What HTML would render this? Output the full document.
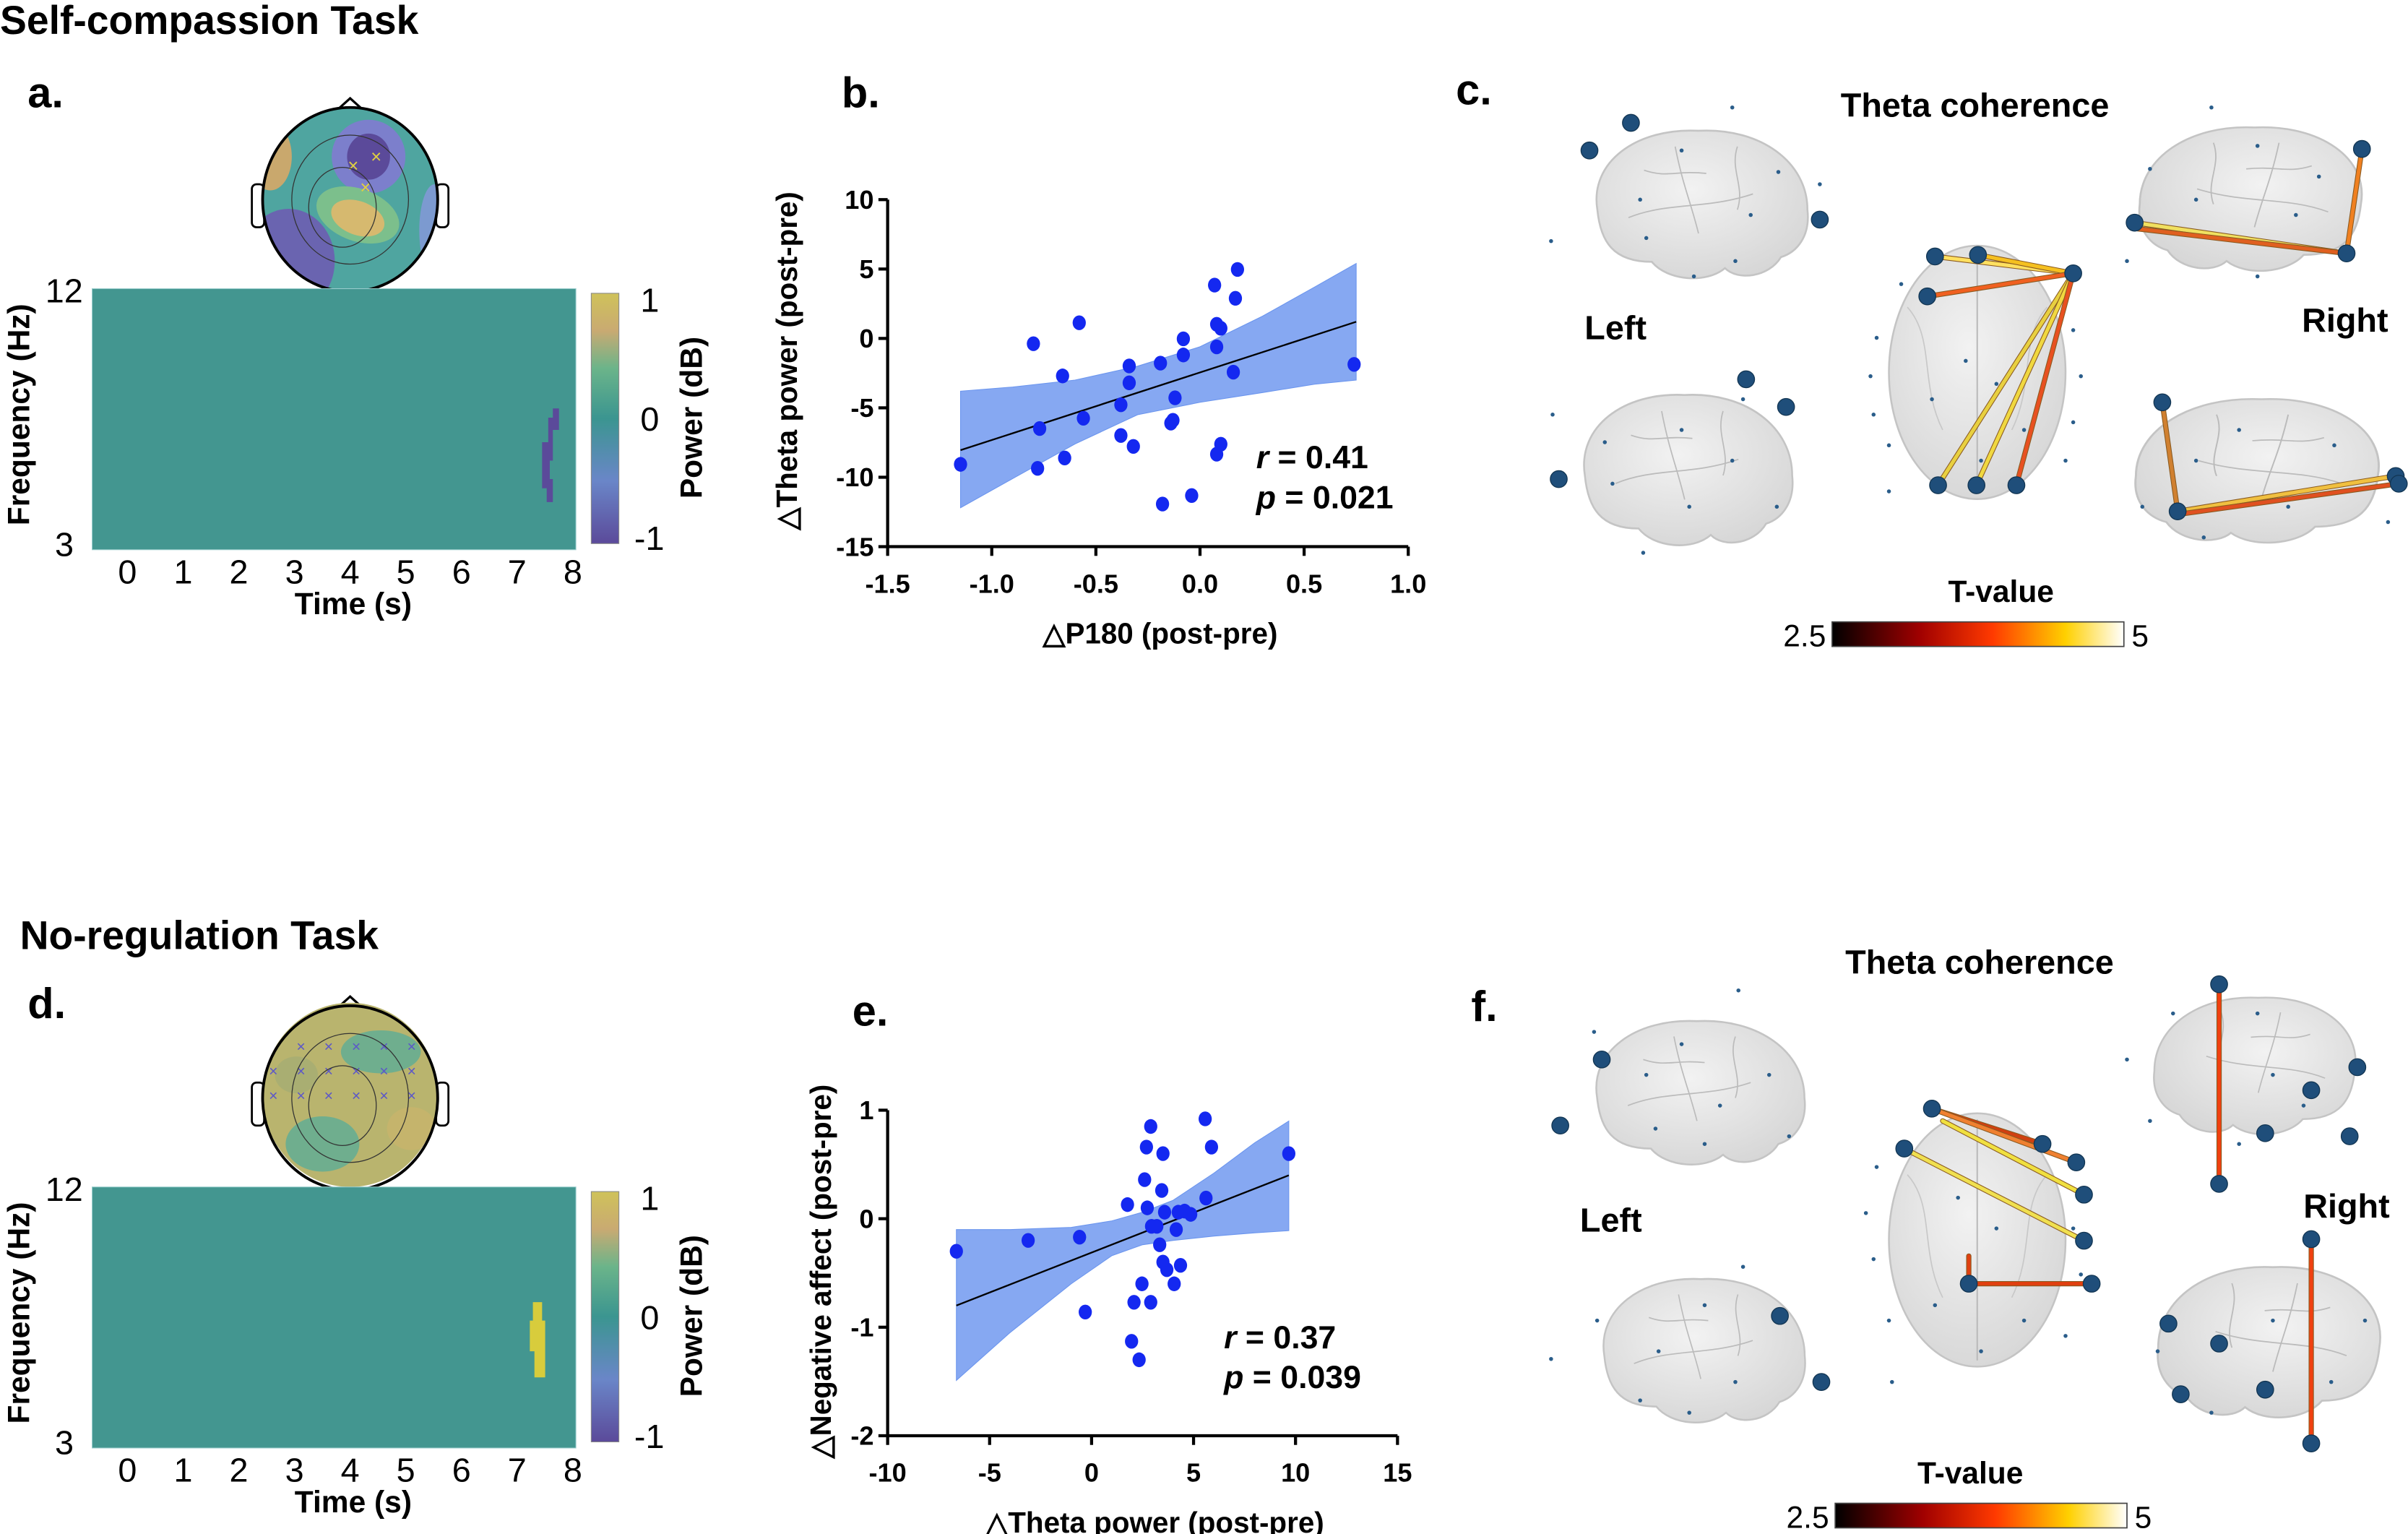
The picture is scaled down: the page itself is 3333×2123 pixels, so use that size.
<!DOCTYPE html>
<html><head><meta charset="utf-8">
<style>
html,body{margin:0;padding:0;background:#fff;}
svg{display:block;}
text{font-family:"Liberation Sans",sans-serif;}
.b{font-weight:bold;}
</style></head>
<body>
<svg id="fig" xmlns="http://www.w3.org/2000/svg" width="3333" height="2123" viewBox="0 0 1568 999" preserveAspectRatio="none">
<defs>
<linearGradient id="cbarP" x1="0" y1="1" x2="0" y2="0">
<stop offset="0" stop-color="#5b4a9a"/><stop offset="0.25" stop-color="#6a86c8"/><stop offset="0.5" stop-color="#3b9590"/><stop offset="0.7" stop-color="#6bb48a"/><stop offset="0.85" stop-color="#c9aa72"/><stop offset="1" stop-color="#cfc25a"/>
</linearGradient>
<linearGradient id="cbarT" x1="0" y1="0" x2="1" y2="0">
<stop offset="0" stop-color="#000"/><stop offset="0.3" stop-color="#a00000"/><stop offset="0.55" stop-color="#ff3a00"/><stop offset="0.8" stop-color="#ffd000"/><stop offset="1" stop-color="#ffffff"/>
</linearGradient>
<radialGradient id="brainG" cx="0.45" cy="0.4" r="0.7">
<stop offset="0" stop-color="#f2f2f2"/><stop offset="1" stop-color="#d4d4d4"/>
</radialGradient>
<clipPath id="headA"><ellipse cx="228" cy="130" rx="57" ry="60"/></clipPath>
<clipPath id="headD"><ellipse cx="228" cy="713" rx="57" ry="60"/></clipPath>
</defs>

<text x="0" y="22" font-size="26" class="b">Self-compassion Task</text>
<text x="13" y="618" font-size="26" class="b">No-regulation Task</text>
<text x="18" y="70" font-size="28" class="b">a.</text>
<text x="548" y="70" font-size="28" class="b">b.</text>
<text x="948" y="68" font-size="28" class="b">c.</text>
<text x="18" y="663" font-size="28" class="b">d.</text>
<text x="555" y="668" font-size="28" class="b">e.</text>
<text x="958" y="665" font-size="28" class="b">f.</text>

<g id="panelA"></g>
<g id="panelD"></g>
<g id="chartB"></g>
<g id="chartE"></g>
<g id="panelC"></g>
<g id="panelF"></g>
</svg>
<script>
// ---- Scatter b data ----
const bX = [-1.15,-0.80,-0.58,-0.66,-0.77,-0.78,-0.65,-0.56,-0.34,-0.34,-0.38,-0.38,-0.32,-0.19,-0.08,-0.08,-0.12,-0.13,-0.14,-0.18,-0.04,0.07,0.18,0.17,0.08,0.10,0.08,0.16,0.10,0.08,0.74];
const bY = [-9.07,-0.38,1.13,-2.70,-6.49,-9.36,-8.61,-5.75,-1.98,-3.20,-4.78,-6.99,-7.78,-1.78,-0.03,-1.19,-4.28,-5.9,-6.1,-11.93,-11.32,3.84,4.97,2.89,1.02,0.73,-0.61,-2.43,-7.62,-8.34,-1.87];
const bFitX = [-1.15, 0.75];
const bFitY = [-8.05, 1.2];
const bCiX = [-1.15,-0.9,-0.6,-0.3,0.0,0.3,0.55,0.75];
const bCiUp = [-3.8,-3.5,-3.0,-2.0,-0.6,1.6,3.7,5.4];
const bCiLo = [-12.2,-10.1,-7.6,-5.5,-4.6,-3.9,-3.3,-3.0];
const bXTicks = [-1.5,-1.0,-0.5,0.0,0.5,1.0];
const bXTickLabels = ["-1.5","-1.0","-0.5","0.0","0.5","1.0"];
const bYTicks = [10,5,0,-5,-10,-15];
const bYTickLabels = ["10","5","0","-5","-10","-15"];

// ---- Scatter e data ----
const eX = [-6.63,-3.11,-0.59,-0.31,1.76,2.90,2.69,3.50,2.60,3.44,2.73,3.58,4.25,4.56,4.86,2.94,3.20,4.15,3.34,3.50,3.69,4.36,2.47,4.05,2.08,2.90,1.96,2.33,5.57,5.88,5.61,9.67];
const eY = [-0.30,-0.20,-0.17,-0.86,0.13,0.85,0.66,0.60,0.36,0.26,0.10,0.06,0.06,0.07,0.04,-0.07,-0.07,-0.10,-0.24,-0.40,-0.47,-0.43,-0.60,-0.60,-0.77,-0.77,-1.13,-1.30,0.92,0.66,0.19,0.60];
const eFitX = [-6.63, 9.67];
const eFitY = [-0.80, 0.40];
const eCiX = [-6.63,-4,-1,1,2.5,4,6,8,9.67];
const eCiUp = [-0.10,-0.10,-0.08,-0.02,0.06,0.17,0.42,0.70,0.90];
const eCiLo = [-1.49,-1.05,-0.60,-0.34,-0.24,-0.20,-0.16,-0.13,-0.11];
const eXTicks = [-10,-5,0,5,10,15];
const eXTickLabels = ["-10","-5","0","5","10","15"];
const eYTicks = [1,0,-1,-2];
const eYTickLabels = ["1","0","-1","-2"];

// ---- heatmap / colorbar ticks ----
const timeTicks = [0,1,2,3,4,5,6,7,8];
const powerTicks = [1,0,-1];

const NS = "http://www.w3.org/2000/svg";
function mk(parent, tag, attrs, txt){
  const e = document.createElementNS(NS, tag);
  for (const k in attrs) e.setAttribute(k, attrs[k]);
  if (txt !== undefined) e.textContent = txt;
  parent.appendChild(e);
  return e;
}

function scatter(g, o){
  const sx = v => o.x0 + (v - o.xmin) / (o.xmax - o.xmin) * (o.x1 - o.x0);
  const sy = v => o.y0 + (o.ymax - v) / (o.ymax - o.ymin) * (o.y1 - o.y0);
  let d = "";
  o.ciX.forEach((v,i)=>{ d += (i?"L":"M") + sx(v) + "," + sy(o.ciUp[i]); });
  for (let i=o.ciX.length-1;i>=0;i--) d += "L" + sx(o.ciX[i]) + "," + sy(o.ciLo[i]);
  const band = mk(g,"path",{d:d+"Z",fill:"#86a8f2",stroke:"#6b95ee","stroke-width":0.5});
  
  
  const fit = mk(g,"line",{x1:sx(o.fitX[0]),y1:sy(o.fitY[0]),x2:sx(o.fitX[1]),y2:sy(o.fitY[1]),stroke:"#000","stroke-width":1.1});
  
  
  o.xs.forEach((v,i)=>{
    const c = mk(g,"ellipse",{cx:sx(v),cy:sy(o.ys[i]),rx:4.3,ry:4.8,fill:"#1428f0"});
    
    
  });
  const ax = mk(g,"path",{d:`M${o.x0},${o.y0} L${o.x0},${o.y1} L${o.x1},${o.y1}`,fill:"none",stroke:"#000","stroke-width":2});
  
  
  o.xt.forEach((v,i)=>{
    mk(g,"line",{x1:sx(v),y1:o.y1,x2:sx(v),y2:o.y1+6,stroke:"#000","stroke-width":2});
    const t = mk(g,"text",{x:sx(v),y:o.y1+30,"font-size":17,"text-anchor":"middle","class":"b"},o.xtl[i]);
    
    
  });
  o.yt.forEach((v,i)=>{
    mk(g,"line",{x1:o.x0-6,y1:sy(v),x2:o.x0,y2:sy(v),stroke:"#000","stroke-width":2});
    const t = mk(g,"text",{x:o.x0-9,y:sy(v)+6,"font-size":17,"text-anchor":"end","class":"b"},o.ytl[i]);
    
    
  });
  const xt = mk(g,"text",{x:(o.x0+o.x1)/2+8,y:o.y1+63,"font-size":19,"text-anchor":"middle","class":"b"},o.xlab);
  
  
  const yt = mk(g,"text",{x:0,y:0,"font-size":19,"text-anchor":"middle","class":"b",transform:`translate(${o.ylx},${o.yly}) rotate(-90)`},o.ylab);
  
  
  const st = mk(g,"text",{x:o.stx,y:o.sty,"font-size":21,"class":"b"});
  
  
  mk(st,"tspan",{"font-style":"italic"},"r");
  mk(st,"tspan",{},o.r);
  const st2 = mk(g,"text",{x:o.stx,y:o.sty+26,"font-size":21,"class":"b"});
  
  
  mk(st2,"tspan",{"font-style":"italic"},"p");
  mk(st2,"tspan",{},o.p);
}

scatter(document.getElementById("chartB"),{x0:578,x1:917,y0:130,y1:356,xmin:-1.5,xmax:1.0,ymin:-15,ymax:10,
  xs:bX,ys:bY,fitX:bFitX,fitY:bFitY,ciX:bCiX,ciUp:bCiUp,ciLo:bCiLo,xt:bXTicks,xtl:bXTickLabels,yt:bYTicks,ytl:bYTickLabels,
  xlab:"△P180 (post-pre)",ylab:"△Theta power (post-pre)",ylx:519,yly:235,stx:818,sty:305,r:" = 0.41",p:" = 0.021"});
scatter(document.getElementById("chartE"),{x0:578,x1:910,y0:723,y1:935,xmin:-10,xmax:15,ymin:-2,ymax:1,
  xs:eX,ys:eY,fitX:eFitX,fitY:eFitY,ciX:eCiX,ciUp:eCiUp,ciLo:eCiLo,xt:eXTicks,xtl:eXTickLabels,yt:eYTicks,ytl:eYTickLabels,
  xlab:"△Theta power (post-pre)",ylab:"△Negative affect (post-pre)",ylx:541,yly:828,stx:797,sty:878,r:" = 0.37",p:" = 0.039"});

function tfPanel(g, dy, blobColor, blobPath, headId, positive){
  const x0=60,x1=375,y0=188+dy,y1=358+dy;
  const hcx=228,hcy=130+dy;
  mk(g,"path",{d:`M${hcx-10},${hcy-57} L${hcx},${hcy-66} L${hcx+10},${hcy-57}`,fill:"none",stroke:"#000","stroke-width":1.5});
  mk(g,"rect",{x:hcx-64,y:hcy-10,width:8,height:28,rx:3,fill:"#fff",stroke:"#000","stroke-width":1.3});
  mk(g,"rect",{x:hcx+56,y:hcy-10,width:8,height:28,rx:3,fill:"#fff",stroke:"#000","stroke-width":1.3});
  const hg = mk(g,"g",{"clip-path":`url(#${headId})`});
  if(!positive){
    mk(hg,"rect",{x:hcx-60,y:hcy-62,width:120,height:124,fill:"#4fa5a0"});
    mk(hg,"ellipse",{cx:hcx-40,cy:hcy+40,rx:30,ry:34,fill:"#6a64b0"});
    mk(hg,"ellipse",{cx:hcx+12,cy:hcy-28,rx:24,ry:24,fill:"#7c7fcc"});
    mk(hg,"ellipse",{cx:hcx+12,cy:hcy-28,rx:14,ry:15,fill:"#5b4a9a"});
    mk(hg,"ellipse",{cx:hcx+5,cy:hcy+10,rx:28,ry:17,fill:"#7cbf8c",transform:`rotate(20 ${hcx+5} ${hcy+10})`});
    mk(hg,"ellipse",{cx:hcx+5,cy:hcy+12,rx:18,ry:11,fill:"#d6b96f",transform:`rotate(20 ${hcx+5} ${hcy+12})`});
    mk(hg,"ellipse",{cx:hcx-52,cy:hcy-28,rx:14,ry:22,fill:"#c9a86d"});
    mk(hg,"ellipse",{cx:hcx+55,cy:hcy+20,rx:10,ry:30,fill:"#7c9ad0"});
    [[hcx+2,hcy-22],[hcx+17,hcy-28],[hcx+10,hcy-8]].forEach(p=>{
      mk(hg,"text",{x:p[0],y:p[1]+4,"font-size":12,fill:"#e0d040","text-anchor":"middle"},"×");
    });
  } else {
    mk(hg,"rect",{x:hcx-60,y:hcy-62,width:120,height:124,fill:"#b9b46e"});
    mk(hg,"ellipse",{cx:hcx+20,cy:hcy-30,rx:26,ry:14,fill:"#6fae8e"});
    mk(hg,"ellipse",{cx:hcx-18,cy:hcy+30,rx:24,ry:18,fill:"#6fae8e"});
    mk(hg,"ellipse",{cx:hcx-35,cy:hcy-15,rx:14,ry:12,fill:"#a9ae72"});
    mk(hg,"ellipse",{cx:hcx+40,cy:hcy+20,rx:16,ry:14,fill:"#c5b46c"});
    for(let i=0;i<18;i++){
      const px = hcx-50 + (i%6)*18, py = hcy-30 + Math.floor(i/6)*16;
      mk(hg,"text",{x:px,y:py,"font-size":10,fill:"#5c58c8","text-anchor":"middle"},"×");
    }
  }
  mk(hg,"ellipse",{cx:hcx,cy:hcy,rx:38,ry:42,fill:"none",stroke:"#333","stroke-width":0.6});
  mk(hg,"ellipse",{cx:hcx-5,cy:hcy+5,rx:22,ry:26,fill:"none",stroke:"#333","stroke-width":0.6});
  mk(g,"ellipse",{cx:hcx,cy:hcy,rx:57,ry:60,fill:"none",stroke:"#000","stroke-width":1.8});
  const hm = mk(g,"rect",{x:x0,y:y0,width:x1-x0,height:y1-y0,fill:"#439690",stroke:"#9cc","stroke-width":0.5});
  
  
  const bl = mk(g,"path",{d:blobPath,fill:blobColor});
  
  
  const sxT = v => 83 + v*36.25;
  timeTicks.forEach(v=>{
    const t = mk(g,"text",{x:sxT(v),y:y1+22,"font-size":22,"text-anchor":"middle"},String(v));
    
    
  });
  mk(g,"text",{x:230,y:y1+42,"font-size":20,"text-anchor":"middle","class":"b"},"Time (s)");
  mk(g,"text",{x:54,y:y0+9,"font-size":22,"text-anchor":"end"},"12");
  mk(g,"text",{x:48,y:y1+4,"font-size":22,"text-anchor":"end"},"3");
  mk(g,"text",{x:0,y:0,"font-size":20,"text-anchor":"middle","class":"b",transform:`translate(19,${y0+82}) rotate(-90)`},"Frequency (Hz)");
  const cb = mk(g,"rect",{x:385,y:y0+3,width:18,height:163,fill:"url(#cbarP)",stroke:"#888","stroke-width":0.5});
  
  
  const cy = v => y0+6 + (1-v)/2*155;
  powerTicks.forEach(v=>{
    mk(g,"text",{x:v<0?413:417,y:cy(v)+9,"font-size":22},String(v));
  });
  mk(g,"text",{x:0,y:0,"font-size":20,"text-anchor":"middle","class":"b",transform:`translate(457,${y0+84}) rotate(-90)`},"Power (dB)");
}
tfPanel(document.getElementById("panelA"),0,"#5b4a9a","M360,266 L364,266 L364,280 L360,280 L360,300 L358,300 L358,312 L360,312 L360,327 L356,327 L356,318 L353,318 L353,288 L357,288 L357,272 L360,272 Z","headA",false);
tfPanel(document.getElementById("panelD"),585,"#d8cc3c","M347,848 L353,848 L353,860 L355,860 L355,897 L348,897 L348,880 L345,880 L345,860 L347,860 Z","headD",true);

function brainLat(g,x,y,w,h,flip){
  const s = flip?-1:1;
  const tr = `translate(${x+(flip?w:0)},${y}) scale(${s*w/150},${h/105})`;
  const b = mk(g,"path",{transform:tr,d:"M10,55 C5,25 35,3 75,5 C115,3 145,25 145,55 C147,72 138,82 128,85 C120,98 100,100 92,92 C80,102 55,100 45,88 C20,88 12,75 10,55 Z",fill:"url(#brainG)",stroke:"#c4c4c4","stroke-width":1.2});
  
  
  mk(g,"path",{transform:tr,d:"M30,60 C55,50 80,55 110,45 M60,15 C65,40 70,50 75,70 M100,15 C95,30 105,40 100,55 M40,30 C55,35 60,30 80,32",fill:"none",stroke:"#bbb","stroke-width":0.8});
}
function brainTop(g,x,y,w,h){
  const b = mk(g,"ellipse",{cx:x+w/2,cy:y+h/2,rx:w/2,ry:h/2,fill:"url(#brainG)",stroke:"#c4c4c4","stroke-width":1.2});
  
  
  mk(g,"line",{x1:x+w/2,y1:y+4,x2:x+w/2,y2:y+h-4,stroke:"#bbb","stroke-width":1});
  mk(g,"path",{d:`M${x+12},${y+40} C${x+30},${y+60} ${x+20},${y+90} ${x+35},${y+120} M${x+w-12},${y+40} C${x+w-30},${y+60} ${x+w-20},${y+90} ${x+w-35},${y+120}`,fill:"none",stroke:"#c8c8c8","stroke-width":0.8});
}
function node(g,x,y,r){
  const n = mk(g,"circle",{cx:x,cy:y,r:r,fill:r>3?"#1f4e7a":"#2a5d8a",stroke:r>3?"#123552":"none","stroke-width":0.6});
  
  
}
function edge(g,x1,y1,x2,y2,c){
  mk(g,"line",{x1:x1,y1:y1,x2:x2,y2:y2,stroke:"#8a5a20","stroke-width":3.4,"stroke-linecap":"round"});
  const e = mk(g,"line",{x1:x1,y1:y1,x2:x2,y2:y2,stroke:c,"stroke-width":2.4,"stroke-linecap":"round"});
  
  
}
function legendT(g,cx,ty,bx,by){
  mk(g,"text",{x:cx,y:ty,"font-size":20,"text-anchor":"middle","class":"b"},"T-value");
  const r = mk(g,"rect",{x:bx,y:by,width:190,height:16,fill:"url(#cbarT)",stroke:"#444","stroke-width":0.8});
  
  
  mk(g,"text",{x:bx-4,y:by+16,"font-size":20,"text-anchor":"end"},"2.5");
  mk(g,"text",{x:bx+195,y:by+16,"font-size":20},"5");
}
function smallDots(g,pts){ pts.forEach(p=>node(g,p[0],p[1],1.3)); }

(function(){
  const g = document.getElementById("panelC");
  mk(g,"text",{x:1286,y:76,"font-size":22,"text-anchor":"middle","class":"b"},"Theta coherence");
  mk(g,"text",{x:1052,y:221,"font-size":22,"text-anchor":"middle","class":"b"},"Left");
  mk(g,"text",{x:1527,y:216,"font-size":22,"text-anchor":"middle","class":"b"},"Right");
  brainLat(g,1030,80,152,108,false);
  brainLat(g,1022,252,150,110,false);
  brainTop(g,1230,160,115,165);
  brainLat(g,1388,78,160,105,true);
  brainLat(g,1385,255,175,105,true);
  smallDots(g,[[1128,70],[1010,157],[1068,130],[1095,98],[1140,140],[1158,112],[1185,120],[1072,155],[1103,180],[1130,170],
    [1050,315],[1070,360],[1095,280],[1128,300],[1157,330],[1100,330],[1045,288],[1135,260],[1011,270],
    [1222,220],[1218,245],[1220,270],[1230,290],[1238,185],[1350,215],[1355,245],[1350,275],[1345,300],[1280,235],[1300,250],[1258,260],[1318,280],[1290,300],[1230,320],
    [1440,70],[1400,110],[1430,130],[1470,95],[1495,140],[1510,115],[1385,170],[1470,180],
    [1430,300],[1458,280],[1490,330],[1520,290],[1395,330],[1435,350],[1555,340]]);
  edge(g,1350,178,1260,167,"#ffe060");
  edge(g,1350,178,1288,166,"#f5c020");
  edge(g,1350,178,1255,193,"#f06020");
  edge(g,1350,178,1262,316,"#e8d040");
  edge(g,1350,178,1287,316,"#f0d840");
  edge(g,1350,178,1313,316,"#e85020");
  [[1350,178],[1260,167],[1288,166],[1255,193],[1262,316],[1287,316],[1313,316]].forEach(p=>node(g,p[0],p[1],5.5));
  edge(g,1390,145,1528,165,"#f0e060");
  edge(g,1392,149,1528,165,"#e06020");
  edge(g,1538,97,1528,165,"#f08020");
  [[1390,145],[1528,165],[1538,97]].forEach(p=>node(g,p[0],p[1],5.5));
  edge(g,1408,262,1418,333,"#d08030");
  edge(g,1418,333,1560,310,"#f0c040");
  edge(g,1418,335,1562,315,"#e05020");
  [[1408,262],[1418,333],[1560,310],[1562,315]].forEach(p=>node(g,p[0],p[1],5.5));
  [[1062,80],[1035,98],[1185,143],[1137,247],[1163,265],[1015,312]].forEach(p=>node(g,p[0],p[1],5.5));
  legendT(g,1303,392,1193,405);
})();

(function(){
  const g = document.getElementById("panelF");
  mk(g,"text",{x:1289,y:634,"font-size":22,"text-anchor":"middle","class":"b"},"Theta  coherence");
  mk(g,"text",{x:1049,y:802,"font-size":22,"text-anchor":"middle","class":"b"},"Left");
  mk(g,"text",{x:1528,y:793,"font-size":22,"text-anchor":"middle","class":"b"},"Right");
  brainLat(g,1030,660,150,105,false);
  brainLat(g,1035,828,145,105,false);
  brainTop(g,1230,725,115,165);
  brainLat(g,1398,645,145,100,true);
  brainLat(g,1400,820,160,110,true);
  smallDots(g,[[1132,645],[1038,672],[1072,700],[1095,680],[1120,720],[1152,700],[1078,735],[1110,745],[1165,740],
    [1040,860],[1080,880],[1110,850],[1130,900],[1068,912],[1100,920],[1010,885],[1135,825],
    [1215,790],[1222,760],[1220,820],[1230,860],[1350,800],[1355,830],[1345,870],[1275,780],[1300,800],[1260,850],[1318,860],[1232,900],[1290,880],
    [1385,690],[1415,660],[1470,660],[1480,700],[1500,720],[1400,730],[1458,745],
    [1405,880],[1440,920],[1480,860],[1518,900],[1540,860],[1423,908]]);
  edge(g,1258,722,1330,745,"#d04010");
  edge(g,1258,722,1352,757,"#f08030");
  edge(g,1265,730,1357,778,"#f0e040");
  edge(g,1240,748,1357,808,"#f0e050");
  edge(g,1282,836,1362,836,"#e04010");
  edge(g,1282,818,1282,836,"#e04010");
  [[1258,722],[1330,745],[1352,757],[1357,778],[1240,748],[1357,808],[1282,836],[1362,836]].forEach(p=>node(g,p[0],p[1],5.5));
  edge(g,1445,641,1445,771,"#f04010");
  [[1445,641],[1445,771],[1530,740],[1505,710],[1475,738],[1535,695]].forEach(p=>node(g,p[0],p[1],5.5));
  edge(g,1505,807,1505,940,"#f04010");
  [[1505,807],[1505,940],[1412,862],[1445,875],[1475,905],[1420,908]].forEach(p=>node(g,p[0],p[1],5.5));
  [[1043,690],[1016,733],[1159,857],[1186,900]].forEach(p=>node(g,p[0],p[1],5.5));
  legendT(g,1283,966,1195,979);
})();
</script>
</body></html>
